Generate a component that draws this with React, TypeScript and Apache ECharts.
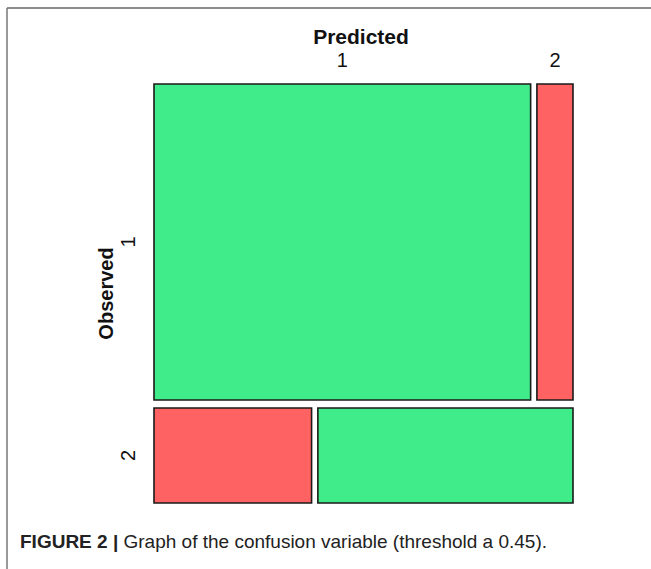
import React, { useEffect, useRef } from "react";
import * as echarts from "echarts";

// Mosaic plot: rows = Observed, columns = Predicted
const observedLevels = ["1", "2"];
const predictedLevels = ["1", "2"];
// counts per observed level, in predicted-level order
const countsObserved1 = [167, 16];
const countsObserved2 = [21, 34];
const countsByObserved = [countsObserved1, countsObserved2];

const captionBold = "FIGURE 2 |";
const captionText = " Graph of the confusion variable (threshold a 0.45).";

const GREEN = "#40EC8A";
const RED = "#FF6262";
const GAP_X = 0.015;
const GAP_Y = 0.019;

function buildCells() {
  const total = countsByObserved.reduce((s, r) => s + r.reduce((a, b) => a + b, 0), 0);
  const cells: any[] = [];
  let y = 0;
  countsByObserved.forEach((row, r) => {
    const rowTotal = row.reduce((a, b) => a + b, 0);
    const h = (1 - GAP_Y * (countsByObserved.length - 1)) * (rowTotal / total);
    let x = 0;
    row.forEach((v, c) => {
      const w = (1 - GAP_X * (row.length - 1)) * (v / rowTotal);
      cells.push({ value: [x, x + w, y, y + h, r, c, v] });
      x += w + GAP_X;
    });
    y += h + GAP_Y;
  });
  return cells;
}

const GRID = { left: 154, right: 78, top: 84, bottom: 66 };

export default function App() {
  const ref = useRef<HTMLDivElement>(null);
  useEffect(() => {
    if (!ref.current) return;
    const chart = echarts.init(ref.current, null, { renderer: "svg" });
    const cells = buildCells();
    const font = "Liberation Sans, Arial, Helvetica, sans-serif";
    chart.setOption({
      animation: false,
      backgroundColor: "#ffffff",
      grid: { ...GRID, containLabel: false },
      xAxis: { type: "value", min: 0, max: 1, show: false },
      yAxis: { type: "value", min: 0, max: 1, inverse: true, show: false },
      series: [
        {
          type: "custom",
          data: cells,
          renderItem: (params: any, api: any) => {
            const x0 = api.value(0), x1 = api.value(1), y0 = api.value(2), y1 = api.value(3);
            const r = api.value(4), c = api.value(5);
            const p0 = api.coord([x0, y0]);
            const p1 = api.coord([x1, y1]);
            const children: any[] = [
              {
                type: "rect",
                shape: { x: p0[0], y: p0[1], width: p1[0] - p0[0], height: p1[1] - p0[1] },
                style: { fill: r === c ? GREEN : RED, stroke: "#1a1a1a", lineWidth: 1.6 },
              },
            ];
            if (r === 0) {
              children.push({
                type: "text",
                x: (p0[0] + p1[0]) / 2,
                y: p0[1] - 24,
                style: {
                  text: predictedLevels[c],
                  fontSize: 20,
                  fontFamily: font,
                  fill: "#111",
                  align: "center",
                  verticalAlign: "middle",
                },
              });
            }
            if (c === 0) {
              children.push({
                type: "text",
                x: p0[0] - 26,
                y: (p0[1] + p1[1]) / 2,
                rotation: Math.PI / 2,
                style: {
                  text: observedLevels[r],
                  fontSize: 20,
                  fontFamily: font,
                  fill: "#111",
                  align: "center",
                  verticalAlign: "middle",
                },
              });
            }
            return { type: "group", children };
          },
        },
      ],
      graphic: [
        { type: "line", shape: { x1: 7, y1: 8, x2: 651, y2: 8 }, style: { stroke: "#666", lineWidth: 1.5 } },
        { type: "line", shape: { x1: 7, y1: 8, x2: 7, y2: 569 }, style: { stroke: "#777", lineWidth: 1.5 } },
        {
          type: "text",
          x: 361,
          y: 36,
          style: {
            text: "Predicted",
            fontSize: 21,
            fontWeight: "bold",
            fontFamily: font,
            fill: "#111",
            align: "center",
            verticalAlign: "middle",
          },
        },
        {
          type: "text",
          x: 105.5,
          y: 293.5,
          rotation: Math.PI / 2,
          style: {
            text: "Observed",
            fontSize: 20,
            fontWeight: "bold",
            fontFamily: font,
            fill: "#111",
            align: "center",
            verticalAlign: "middle",
          },
        },
        {
          type: "text",
          x: 20,
          y: 541,
          style: {
            text: "{b|" + captionBold + "}{n|" + captionText + "}",
            fontFamily: font,
            verticalAlign: "middle",
            rich: {
              b: { fontSize: 19, fontWeight: "bold", fontFamily: font, fill: "#222" },
              n: { fontSize: 19, fontFamily: font, fill: "#222" },
            },
          },
        },
      ],
    });
    return () => chart.dispose();
  }, []);
  return (
    <div
      ref={ref}
      style={{ position: "fixed", left: 0, top: 0, width: 651, height: 569, background: "#fff" }}
    />
  );
}
